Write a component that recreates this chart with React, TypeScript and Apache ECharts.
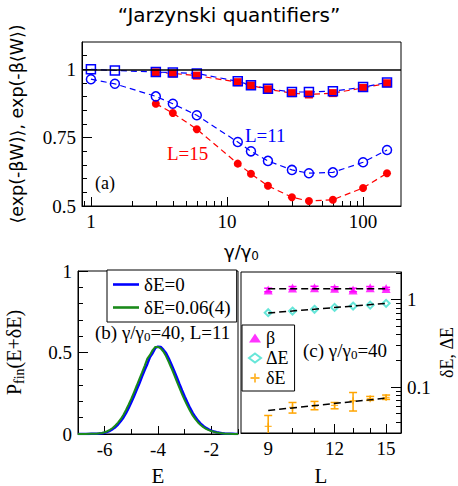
import React, { useEffect, useRef } from "react";
import * as echarts from "echarts";

// ---------- Panel (a) data ----------
const GAMMA_L11 = [1, 1.5, 3, 4, 6, 12, 15, 20, 30, 40, 60, 100, 150];
const GAMMA_L15 = [3, 4, 6, 12, 15, 20, 30, 40, 60, 100, 150];
const JAR_L11 = [0.964, 0.947, 0.901, 0.874, 0.832, 0.734, 0.7, 0.665, 0.632, 0.62, 0.623, 0.66, 0.705];
const JAR_L15 = [0.874, 0.84, 0.781, 0.655, 0.618, 0.574, 0.532, 0.518, 0.523, 0.566, 0.62];
const MEANW_L11 = [1.0, 0.996, 0.99, 0.988, 0.985, 0.956, 0.942, 0.929, 0.917, 0.917, 0.92, 0.935, 0.952];
const MEANW_L15 = [0.989, 0.985, 0.977, 0.953, 0.941, 0.927, 0.913, 0.908, 0.913, 0.932, 0.949];
const A_X_LABELS = [1, 10, 100];
const A_X_MINOR = [0.9, 2, 3, 4, 5, 6, 7, 8, 9, 20, 30, 40, 50, 60, 70, 80, 90];
const A_Y_LABELS = [0.5, 0.75, 1];
const A_Y_MINOR = [0.55, 0.6, 0.65, 0.7, 0.8, 0.85, 0.9, 0.95, 1.05];

// ---------- Panel (b) data ----------
const ENERGY = [
  -7.0, -6.9, -6.8, -6.7, -6.6, -6.5, -6.4, -6.3, -6.2, -6.1, -6.0, -5.9, -5.8, -5.7, -5.6, -5.5, -5.4, -5.3, -5.2, -5.1,
  -5.0, -4.9, -4.8, -4.7, -4.6, -4.5, -4.4, -4.3, -4.2, -4.1, -4.0, -3.9, -3.8, -3.7, -3.6, -3.5, -3.4, -3.3, -3.2, -3.1,
  -3.0, -2.9, -2.8, -2.7, -2.6, -2.5, -2.4, -2.3, -2.2, -2.1, -2.0, -1.9, -1.8, -1.7, -1.6, -1.5, -1.4, -1.3, -1.2, -1.1, -1.0,
];
const P_DE0 = [
  0, 0, 0, 0, 0, 0.001, 0.001, 0.002, 0.003, 0.005, 0.008, 0.013, 0.02, 0.03, 0.042, 0.058, 0.078, 0.1, 0.128, 0.16,
  0.195, 0.232, 0.272, 0.31, 0.352, 0.392, 0.43, 0.472, 0.497, 0.528, 0.536, 0.534, 0.517, 0.497, 0.465, 0.428, 0.39, 0.35, 0.308, 0.268,
  0.23, 0.194, 0.16, 0.13, 0.104, 0.082, 0.064, 0.049, 0.037, 0.028, 0.021, 0.015, 0.011, 0.008, 0.005, 0.003, 0.002, 0.001, 0.001, 0, 0,
];
const P_DE006 = [
  0, 0, 0, 0, 0.001, 0.001, 0.002, 0.002, 0.004, 0.006, 0.011, 0.017, 0.026, 0.037, 0.052, 0.07, 0.091, 0.117, 0.147, 0.181,
  0.217, 0.256, 0.296, 0.337, 0.376, 0.418, 0.462, 0.485, 0.515, 0.534, 0.534, 0.525, 0.506, 0.478, 0.443, 0.405, 0.366, 0.325, 0.284, 0.245,
  0.208, 0.174, 0.142, 0.114, 0.091, 0.071, 0.055, 0.042, 0.032, 0.024, 0.018, 0.013, 0.009, 0.006, 0.004, 0.002, 0.001, 0.001, 0, 0, 0,
];
const B_X_LABELS = [-6, -4, -2];
const B_X_MINOR = [-7, -5, -3, -1];
const B_Y_LABELS = [0, 0.5, 1];
const B_Y_MINOR = [0.1, 0.2, 0.3, 0.4, 0.6, 0.7, 0.8, 0.9];

// ---------- Panel (c) data ----------
const SIZES = [9, 10, 11, 12, 13, 14, 15];
const BETA = [1.28, 1.35, 1.36, 1.34, 1.28, 1.36, 1.33];
const BETA_ERR = [0.06, 0.05, 0.05, 0.05, 0.06, 0.04, 0.04];
const BETA_FIT = [1.32, 1.32];
const DELTA_BIG = [0.705, 0.736, 0.77, 0.81, 0.839, 0.86, 0.9];
const DELTA_BIG_FIT = [0.7, 0.9];
const DELTA_SMALL = [0.0357, 0.0586, 0.0613, 0.0619, 0.0699, 0.0737, 0.0762];
const DELTA_SMALL_LO = [0.02, 0.0506, 0.0552, 0.0566, 0.0534, 0.0706, 0.0724];
const DELTA_SMALL_HI = [0.0475, 0.0668, 0.0687, 0.0668, 0.0868, 0.0783, 0.0812];
const DELTA_SMALL_FIT = [0.0542, 0.075];
const FIT_L = [9, 15];
const C_X_LABELS = [9, 12, 15];
const C_X_MINOR = [10, 11, 13, 14];
const C_Y_LABELS = [0.1, 1];
const C_Y_MINOR = [0.04, 0.05, 0.06, 0.07, 0.08, 0.09, 0.2, 0.3, 0.4, 0.5, 0.6, 0.7, 0.8, 0.9, 2];

const SERIF = "Liberation Serif";
const SANS = "DejaVu Sans";
const BLUE = "#0000ff";
const RED = "#ff0000";
const GREEN = "#1a8a1a";
const MAGENTA = "#ff00ff";
const CYAN = "#40e0d0";
const ORANGE = "#ffa500";

function mainAxis(extra: any, labels: number[], majorLen = 9) {
  return {
    splitLine: { show: false },
    axisLine: { show: true, onZero: false, lineStyle: { color: "#000", width: 1 } },
    axisTick: { show: true, inside: true, length: majorLen, customValues: labels, lineStyle: { color: "#000" } },
    axisLabel: { color: "#000", fontFamily: SERIF, fontSize: 19, customValues: labels, margin: 6 },
    ...extra,
  };
}
function minorAxis(extra: any, minor: number[], len = 5) {
  return {
    splitLine: { show: false },
    axisLine: { show: false },
    axisLabel: { show: false },
    axisTick: { show: true, inside: true, length: len, customValues: minor, lineStyle: { color: "#000" } },
    ...extra,
  };
}

const pairs = (xs: number[], ys: number[]) => xs.map((x, i) => [x, ys[i]]);

function errorBar(color: string, capHalf: number) {
  return (params: any, api: any) => {
    const x = api.value(0);
    const lo = api.coord([x, api.value(1)]);
    const hi = api.coord([x, api.value(2)]);
    const style = { stroke: color, lineWidth: 1.5 };
    return {
      type: "group",
      children: [
        { type: "line", shape: { x1: lo[0], y1: lo[1], x2: hi[0], y2: hi[1] }, style },
        { type: "line", shape: { x1: lo[0] - capHalf, y1: lo[1], x2: lo[0] + capHalf, y2: lo[1] }, style },
        { type: "line", shape: { x1: hi[0] - capHalf, y1: hi[1], x2: hi[0] + capHalf, y2: hi[1] }, style },
      ],
    };
  };
}

const PLUS = "path://M-1,-5H1V-1H5V1H1V5H-1V1H-5V-1H-1Z";
const LINE_ICON = "path://M0,0H30V3H0Z";
const GRID_BASE = { show: true, borderColor: "#000", borderWidth: 1, backgroundColor: "transparent", outerBoundsMode: "none", containLabel: false };

export default function App() {
  const ref = useRef<HTMLDivElement>(null);
  useEffect(() => {
    if (!ref.current) return;
    const chart = echarts.init(ref.current, undefined, { renderer: "svg" });
    const dashed = { type: [6, 4] as any, width: 1.2 };
    const subRich = (size: number, sub: number, pad: number, family: string) => ({
      n: { fontFamily: family, fontSize: size, color: "#000", fill: "#000" },
      s: { fontFamily: family, fontSize: sub, color: "#000", fill: "#000", padding: [pad, 0, 0, 0] },
    });
    const option: any = {
      animation: false,
      backgroundColor: "#fff",
      textStyle: { fontFamily: SERIF },
      title: {
        text: "“Jarzynski quantifiers”",
        left: "center",
        top: 0,
        textStyle: { fontFamily: SANS, fontSize: 20, fontWeight: "normal", color: "#000" },
      },
      grid: [
        { ...GRID_BASE, left: 82, top: 42, width: 319, height: 164 },
        { ...GRID_BASE, left: 78, top: 271, width: 160, height: 163 },
        { ...GRID_BASE, left: 241, top: 272, width: 160, height: 161 },
      ],
      xAxis: [
        mainAxis(
          {
            type: "log", logBase: 10, gridIndex: 0, min: 0.86, max: 190, position: "bottom",
            name: "{n|γ/γ}{s|0}", nameLocation: "middle", nameGap: 35,
            nameTextStyle: { rich: subRich(18, 12, 9, SANS) },
          },
          A_X_LABELS
        ),
        minorAxis({ type: "log", logBase: 10, gridIndex: 0, min: 0.86, max: 190, position: "bottom" }, A_X_MINOR),
        mainAxis(
          {
            type: "value", gridIndex: 1, min: -7, max: -1, position: "bottom",
            name: "E", nameLocation: "middle", nameGap: 31,
            nameTextStyle: { fontFamily: SERIF, fontSize: 21, color: "#000" },
          },
          B_X_LABELS, 8
        ),
        minorAxis({ type: "value", gridIndex: 1, min: -7, max: -1, position: "bottom" }, B_X_MINOR, 5),
        mainAxis(
          {
            type: "log", logBase: 10, gridIndex: 2, min: 8, max: 16, position: "bottom",
            name: "L", nameLocation: "middle", nameGap: 32,
            nameTextStyle: { fontFamily: SERIF, fontSize: 21, color: "#000" },
          },
          C_X_LABELS, 9
        ),
        minorAxis({ type: "log", logBase: 10, gridIndex: 2, min: 8, max: 16, position: "bottom" }, C_X_MINOR, 5),
      ],
      yAxis: [
        mainAxis(
          {
            type: "value", gridIndex: 0, min: 0.5, max: 1.1, position: "left",
            name: "⟨exp(-βW)⟩, exp(-β⟨W⟩)", nameLocation: "middle", nameGap: 56,
            nameTextStyle: { fontFamily: SANS, fontSize: 17.5, color: "#000" },
          },
          A_Y_LABELS, 10
        ),
        minorAxis({ type: "value", gridIndex: 0, min: 0.5, max: 1.1, position: "left" }, A_Y_MINOR, 5),
        mainAxis(
          {
            type: "value", gridIndex: 1, min: 0, max: 1, position: "left",
            name: "{n|P}{s|fin}{n|(E+δE)}", nameLocation: "middle", nameGap: 52,
            nameTextStyle: { rich: subRich(20, 14, 10, SERIF) },
          },
          B_Y_LABELS, 10
        ),
        minorAxis({ type: "value", gridIndex: 1, min: 0, max: 1, position: "left" }, B_Y_MINOR, 5),
        mainAxis(
          {
            type: "log", logBase: 10, gridIndex: 2, min: 0.03, max: 2.05, position: "right",
            name: "δE, ΔE", nameLocation: "middle", nameGap: 37, nameRotate: 90,
            nameTextStyle: { fontFamily: SERIF, fontSize: 18, color: "#000" },
          },
          C_Y_LABELS, 10
        ),
        minorAxis({ type: "log", logBase: 10, gridIndex: 2, min: 0.03, max: 2.05, position: "right" }, C_Y_MINOR, 5),
      ],
      legend: [
        {
          orient: "vertical", left: 107, top: 270,
          data: [{ name: "δE=0", icon: LINE_ICON }, { name: "δE=0.06(4)", icon: LINE_ICON }],
          itemWidth: 26, itemHeight: 3, itemGap: 4,
          padding: [5, 6, 5, 6],
          borderColor: "#000", borderWidth: 1, borderRadius: 0, backgroundColor: "#fff",
          textStyle: { fontFamily: SERIF, fontSize: 19, color: "#000" },
          selectedMode: false,
        },
        {
          orient: "vertical", left: 242, top: 325,
          data: ["β", "ΔE", "δE"],
          itemWidth: 12, itemHeight: 9, itemGap: 2,
          padding: [4, 6, 4, 6],
          borderColor: "#000", borderWidth: 1, borderRadius: 0, backgroundColor: "#fff",
          textStyle: { fontFamily: SERIF, fontSize: 18, color: "#000" },
          selectedMode: false,
        },
      ],
      graphic: [
        { type: "text", x: 245, y: 135, style: { text: "L=11", fill: BLUE, fontFamily: SERIF, fontSize: 19, verticalAlign: "middle" } },
        { type: "text", x: 167, y: 153, style: { text: "L=15", fill: RED, fontFamily: SERIF, fontSize: 19, verticalAlign: "middle" } },
        { type: "text", x: 95, y: 183, style: { text: "(a)", fill: "#000", fontFamily: SERIF, fontSize: 18, verticalAlign: "middle" } },
        {
          type: "text", x: 95, y: 332,
          style: { text: "{n|(b) γ/γ}{s|0}{n|=40, L=11}", verticalAlign: "middle", rich: subRich(19, 13, 9, SERIF) },
        },
        {
          type: "text", x: 303, y: 350, z: 100,
          style: { text: "{n|(c) γ/γ}{s|0}{n|=40}", verticalAlign: "middle", rich: subRich(19, 13, 9, SERIF) },
        },
      ],
      series: [
        // panel (a)
        {
          type: "line", name: "Jar15", xAxisIndex: 0, yAxisIndex: 0, data: pairs(GAMMA_L15, JAR_L15),
          symbol: "circle", symbolSize: 8, itemStyle: { color: RED }, lineStyle: { ...dashed, color: RED },
          markLine: {
            silent: true, symbol: ["none", "none"], label: { show: false },
            lineStyle: { color: "#000", type: "solid", width: 1.6 }, data: [{ yAxis: 1 }],
          },
        },
        {
          type: "line", name: "W15", xAxisIndex: 0, yAxisIndex: 0, data: pairs(GAMMA_L15, MEANW_L15),
          symbol: "rect", symbolSize: 8, itemStyle: { color: RED }, lineStyle: { ...dashed, color: RED },
        },
        {
          type: "line", name: "Jar11", xAxisIndex: 0, yAxisIndex: 0, data: pairs(GAMMA_L11, JAR_L11),
          symbol: "circle", symbolSize: 9, itemStyle: { color: "transparent", borderColor: BLUE, borderWidth: 1.5 },
          lineStyle: { ...dashed, color: BLUE },
        },
        {
          type: "line", name: "W11", xAxisIndex: 0, yAxisIndex: 0, data: pairs(GAMMA_L11, MEANW_L11),
          symbol: "rect", symbolSize: 9, itemStyle: { color: "transparent", borderColor: BLUE, borderWidth: 1.5 },
          lineStyle: { ...dashed, color: BLUE },
        },
        // panel (b)
        {
          type: "line", name: "δE=0", xAxisIndex: 2, yAxisIndex: 2, data: pairs(ENERGY, P_DE0),
          symbol: "none", lineStyle: { color: BLUE, width: 2.5 }, itemStyle: { color: BLUE },
        },
        {
          type: "line", name: "δE=0.06(4)", xAxisIndex: 2, yAxisIndex: 2, data: pairs(ENERGY, P_DE006),
          symbol: "none", lineStyle: { color: GREEN, width: 2 }, itemStyle: { color: GREEN },
        },
        // panel (c)
        {
          type: "line", name: "betaFit", xAxisIndex: 4, yAxisIndex: 4, data: pairs(FIT_L, BETA_FIT),
          symbol: "none", lineStyle: { color: "#000", width: 1.5, type: [7, 4] },
        },
        {
          type: "line", name: "bigFit", xAxisIndex: 4, yAxisIndex: 4, data: pairs(FIT_L, DELTA_BIG_FIT),
          symbol: "none", lineStyle: { color: "#000", width: 1.5, type: [7, 4] },
        },
        {
          type: "line", name: "smallFit", xAxisIndex: 4, yAxisIndex: 4, data: pairs(FIT_L, DELTA_SMALL_FIT),
          symbol: "none", lineStyle: { color: "#000", width: 1.5, type: [7, 4] },
        },
        {
          type: "custom", name: "betaErr", xAxisIndex: 4, yAxisIndex: 4, clip: true,
          data: SIZES.map((l, i) => [l, BETA[i] - BETA_ERR[i], BETA[i] + BETA_ERR[i]]),
          encode: { x: 0, y: [1, 2] }, renderItem: errorBar(MAGENTA, 4),
        },
        {
          type: "custom", name: "smallErr", xAxisIndex: 4, yAxisIndex: 4, clip: true,
          data: SIZES.map((l, i) => [l, DELTA_SMALL_LO[i], DELTA_SMALL_HI[i]]),
          encode: { x: 0, y: [1, 2] }, renderItem: errorBar(ORANGE, 4),
        },
        {
          type: "scatter", name: "β", xAxisIndex: 4, yAxisIndex: 4, data: pairs(SIZES, BETA),
          symbol: "triangle", symbolSize: 9, itemStyle: { color: MAGENTA },
        },
        {
          type: "scatter", name: "ΔE", xAxisIndex: 4, yAxisIndex: 4, data: pairs(SIZES, DELTA_BIG),
          symbol: "emptyDiamond", symbolSize: 7, itemStyle: { color: CYAN, borderColor: CYAN, borderWidth: 1.5 },
        },
        {
          type: "scatter", name: "δE", xAxisIndex: 4, yAxisIndex: 4, data: pairs(SIZES, DELTA_SMALL),
          symbol: PLUS, symbolSize: 7, itemStyle: { color: ORANGE },
        },
      ],
    };
    chart.setOption(option);
    return () => chart.dispose();
  }, []);
  return <div ref={ref} style={{ position: "fixed", left: 0, top: 0, width: 458, height: 486 }} />;
}
